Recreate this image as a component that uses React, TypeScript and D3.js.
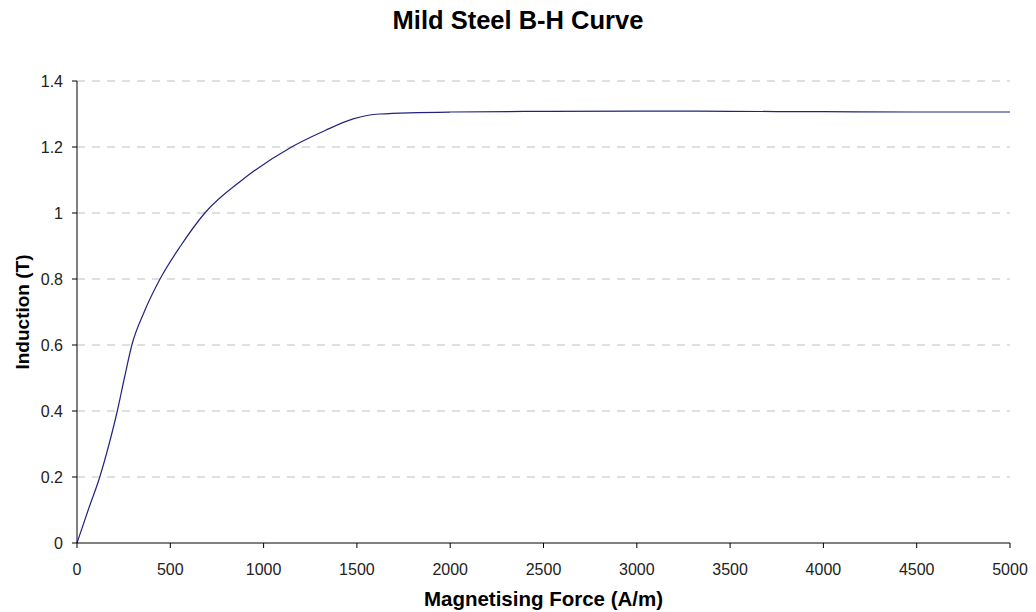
import React from "react";
import * as d3 from "d3";

// Magnetising force H (A/m) and induction B (T) for mild steel
const fieldH = [0, 60, 122, 172, 216, 254, 294, 360, 445, 555, 685, 885, 1150, 1330, 1480, 1620, 2000, 2500, 3000, 3500, 4000, 4500, 5000];
const inductionB = [0, 0.1, 0.2, 0.3, 0.4, 0.5, 0.6, 0.7, 0.8, 0.9, 1.0, 1.1, 1.2, 1.25, 1.285, 1.3, 1.306, 1.308, 1.309, 1.308, 1.307, 1.306, 1.306];

const xTicks = [0, 500, 1000, 1500, 2000, 2500, 3000, 3500, 4000, 4500, 5000];
const yTicks = [0, 0.2, 0.4, 0.6, 0.8, 1, 1.2, 1.4];

const W = 1036;
const H = 612;
const margin = { left: 77, right: 26, top: 81, bottom: 69 };

export default function App() {
  const x = d3.scaleLinear().domain([0, 5000]).range([margin.left, W - margin.right]);
  const y = d3.scaleLinear().domain([0, 1.4]).range([H - margin.bottom, margin.top]);
  const pts = fieldH.map((h, i) => [h, inductionB[i]] as [number, number]);
  const line = d3
    .line<[number, number]>()
    .x((d) => x(d[0]))
    .y((d) => y(d[1]))
    .curve(d3.curveMonotoneX);
  const font = "'Liberation Sans', Arial, sans-serif";
  const y0 = y(0);
  const x0 = x(0);
  return (
    <svg
      width={W}
      height={H}
      style={{ position: "absolute", left: 0, top: 0, background: "#fff" }}
      fontFamily={font}
    >
      <rect x={0} y={0} width={W} height={H} fill="#fff" />
      {yTicks.slice(1).map((t) => (
        <line
          key={"g" + t}
          x1={x0}
          x2={x(5000)}
          y1={y(t)}
          y2={y(t)}
          stroke="#c0c0c0"
          strokeWidth={1}
          strokeDasharray="8,7"
        />
      ))}
      <path d={line(pts) || ""} fill="none" stroke="#23237e" strokeWidth={1.2} />
      <line x1={x0} x2={x0} y1={y(1.4)} y2={y0} stroke="#000" strokeWidth={1} />
      <line x1={x0} x2={x(5000)} y1={y0} y2={y0} stroke="#000" strokeWidth={1} />
      {yTicks.map((t) => (
        <g key={"y" + t}>
          <line x1={x0 - 5} x2={x0} y1={y(t)} y2={y(t)} stroke="#000" />
          <text x={x0 - 14} y={y(t)} dy="0.35em" textAnchor="end" fontSize={16} fill="#222">
            {String(t)}
          </text>
        </g>
      ))}
      {xTicks.map((t) => (
        <g key={"x" + t}>
          <line x1={x(t)} x2={x(t)} y1={y0} y2={y0 + 5} stroke="#000" />
          <text x={x(t)} y={y0 + 32} textAnchor="middle" fontSize={16} fill="#222">
            {String(t)}
          </text>
        </g>
      ))}
      <text x={518} y={29} textAnchor="middle" fontSize={25.5} fontWeight="bold" fill="#000">
        Mild Steel B-H Curve
      </text>
      <text x={(x0 + x(5000)) / 2} y={606} textAnchor="middle" fontSize={20.5} fontWeight="bold" fill="#000">
        Magnetising Force (A/m)
      </text>
      <text
        transform={`translate(29, ${(y(0) + y(1.4)) / 2}) rotate(-90)`}
        textAnchor="middle"
        fontSize={19}
        fontWeight="bold"
        fill="#000"
      >
        Induction (T)
      </text>
    </svg>
  );
}
